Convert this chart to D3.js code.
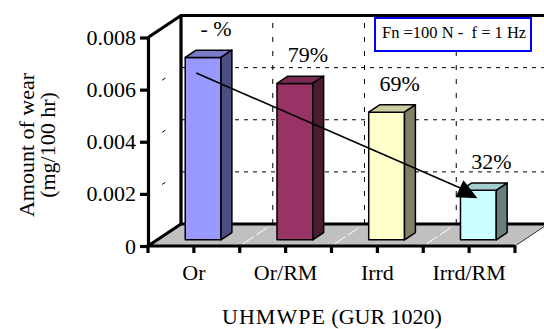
<!DOCTYPE html>
<html>
<head>
<meta charset="utf-8">
<script src="https://cdn.jsdelivr.net/npm/d3@7"></script>
<style>
  html, body { margin: 0; padding: 0; background: #fff; }
  svg { display: block; font-family: "Liberation Serif", "Times New Roman", serif; }
</style>
</head>
<body>
<div id="chart"></div>
<script>
// Wear of UHMWPE (GUR 1020) samples, 3D column chart
const categories = ["Or", "Or/RM", "Irrd", "Irrd/RM"];
const wear = [0.0070, 0.0060, 0.0049, 0.0019];
const percentLabels = ["- %", "79%", "69%", "32%"];
const yTicks = [0, 0.002, 0.004, 0.006, 0.008];
const barFront = ["#9999ff", "#993366", "#ffffcc", "#ccffff"];
const condition = "Fn =100 N -  f = 1 Hz";

const W = 544, H = 329;
const svg = d3.select("#chart").append("svg").attr("width", W).attr("height", H);

// Plot frame: front plane + oblique depth offset
const pLeft = 148, pRight = 515, pBottom = 246, pTop = 37.5;
const DX = 33, DY = 22;
const proj = (px, py, d) => [px + d * DX, py - d * DY];

const x = d3.scaleBand().domain(categories).range([pLeft, pRight]).paddingInner(0).paddingOuter(0);
const y = d3.scaleLinear().domain([0, 0.008]).range([pBottom, pTop]);

const line = d3.line();

// Side wall and back wall
svg.append("path")
  .attr("d", line([proj(pLeft, y(0), 0), proj(pLeft, y(0.008), 0), proj(pLeft, y(0.008), 1), proj(pLeft, y(0), 1)]) + "Z")
  .attr("fill", "#fff");
svg.append("path")
  .attr("d", line([proj(pLeft, y(0), 1), proj(pLeft, y(0.008), 1), proj(pRight, y(0.008), 1), proj(pRight, y(0), 1)]) + "Z")
  .attr("fill", "#fff");

// Back-wall horizontal gridlines
svg.append("g").selectAll("line").data(yTicks.slice(1, -1)).join("line")
  .attr("x1", d => proj(pLeft, y(d), 1)[0]).attr("y1", d => proj(pLeft, y(d), 1)[1])
  .attr("x2", d => proj(pRight, y(d), 1)[0]).attr("y2", d => proj(pRight, y(d), 1)[1])
  .attr("stroke", "#000").attr("stroke-width", 1).attr("stroke-dasharray", "4,5");

// Side-wall gridlines
svg.append("g").selectAll("line").data(yTicks.slice(1, -1)).join("line")
  .attr("x1", d => proj(pLeft, y(d), 0)[0]).attr("y1", d => proj(pLeft, y(d), 0)[1])
  .attr("x2", d => proj(pLeft, y(d), 1)[0]).attr("y2", d => proj(pLeft, y(d), 1)[1])
  .attr("stroke", "#000").attr("stroke-width", 1).attr("stroke-dasharray", "0,17,4,30");

// Back-wall vertical gridlines at category boundaries
const bounds = categories.slice(1).map(c => x(c));
svg.append("g").selectAll("line").data(bounds).join("line")
  .attr("x1", d => proj(d, y(0), 1)[0]).attr("y1", d => proj(d, y(0), 1)[1])
  .attr("x2", d => proj(d, y(0.008), 1)[0]).attr("y2", d => proj(d, y(0.008), 1)[1])
  .attr("stroke", "#000").attr("stroke-width", 1).attr("stroke-dasharray", "5,9");

// Floor
svg.append("path")
  .attr("d", line([proj(pLeft, y(0), 0), proj(pRight, y(0), 0), proj(pRight, y(0), 1), proj(pLeft, y(0), 1)]) + "Z")
  .attr("fill", "#c0c0c0");
svg.append("g").selectAll("line").data(bounds).join("line")
  .attr("x1", d => proj(d, y(0), 0.1)[0]).attr("y1", d => proj(d, y(0), 0.1)[1])
  .attr("x2", d => proj(d, y(0), 0.95)[0]).attr("y2", d => proj(d, y(0), 0.95)[1])
  .attr("stroke", "#fff").attr("stroke-width", 1).attr("stroke-dasharray", "13,3");
svg.append("line")
  .attr("x1", proj(pRight, y(0), 0)[0]).attr("y1", proj(pRight, y(0), 0)[1])
  .attr("x2", proj(pRight, y(0), 1)[0]).attr("y2", proj(pRight, y(0), 1)[1])
  .attr("stroke", "#333").attr("stroke-width", 1);

// Heavy frame edges
const frame = [
  [proj(pLeft, y(0.008), 0), proj(pLeft, y(0.008), 1), proj(pRight, y(0.008), 1)],
  [proj(pLeft, y(0), 1), proj(pLeft, y(0.008), 1)],
  [proj(pLeft, y(0), 0), proj(pLeft, y(0), 1), proj(pRight, y(0), 1)],
  [proj(pLeft, y(0), 0), proj(pRight, y(0), 0)]
];
svg.append("g").selectAll("path").data(frame).join("path")
  .attr("d", d => line(d))
  .attr("stroke", "#000").attr("stroke-width", 3.2).attr("fill", "none");

// Bars
const d0 = 0.28, d1 = 0.61;
const bw = x.bandwidth() * 0.39;
const shade = (c, k) => { const r = d3.rgb(c); return d3.rgb(r.r * k, r.g * k, r.b * k).formatHex(); };
const bars = categories.map((c, i) => {
  const xl = x(c) + (x.bandwidth() - bw) / 2, xr = xl + bw, v = wear[i];
  return { c, i, v, xl, xr };
});
const gb = svg.append("g").attr("stroke", "#000").attr("stroke-width", 1.5).attr("stroke-linejoin", "round");
bars.forEach(b => {
  const yTop = y(b.v), yBase = y(0);
  gb.append("path").attr("fill", barFront[b.i])
    .attr("d", line([proj(b.xl, yTop, d0), proj(b.xr, yTop, d0), proj(b.xr, yBase, d0), proj(b.xl, yBase, d0)]) + "Z");
  gb.append("path").attr("fill", shade(barFront[b.i], 0.8))
    .attr("d", line([proj(b.xl, yTop, d0), proj(b.xr, yTop, d0), proj(b.xr, yTop, d1), proj(b.xl, yTop, d1)]) + "Z");
  gb.append("path").attr("fill", shade(barFront[b.i], 0.5))
    .attr("d", line([proj(b.xr, yTop, d0), proj(b.xr, yTop, d1), proj(b.xr, yBase, d1), proj(b.xr, yBase, d0)]) + "Z");
});

// Percentage labels above the bars
svg.append("g").selectAll("text").data(bars).join("text")
  .attr("x", b => proj((b.xl + b.xr) / 2, 0, d0)[0] + 13)
  .attr("y", b => proj(0, y(b.v), d1)[1] - 14)
  .attr("text-anchor", "middle").attr("font-size", 22).attr("fill", "#000")
  .text(b => percentLabels[b.i]);

// Trend arrow from the first to the last sample
const a0 = [proj(bars[0].xl, 0, d0)[0] + 11, proj(0, y(0.0064), d0)[1]];
const a1 = [proj(bars[3].xl, 0, d0)[0] + 5, proj(0, y(bars[3].v), d0)[1]];
svg.append("line")
  .attr("x1", a0[0]).attr("y1", a0[1]).attr("x2", a1[0]).attr("y2", a1[1])
  .attr("stroke", "#000").attr("stroke-width", 1.6);
svg.append("path")
  .attr("d", line([[a1[0] - 2, a1[1] - 10], [a1[0] - 10, a1[1] + 7], [a1[0] + 12, a1[1] + 8]]) + "Z")
  .attr("fill", "#000");

// Y axis
const yAxis = d3.axisLeft(y).tickValues(yTicks).tickSize(8).tickSizeOuter(0).tickPadding(4)
  .tickFormat(d => d === 0 ? "0" : d3.format(".3f")(d));
const gy = svg.append("g").attr("transform", `translate(${pLeft},0)`).call(yAxis);
gy.select(".domain").attr("stroke", "#000").attr("stroke-width", 3.2);
gy.selectAll(".tick line").attr("stroke", "#000").attr("stroke-width", 3.2);
gy.selectAll(".tick text").attr("font-family", "Liberation Serif").attr("font-size", 22).attr("fill", "#000");

// X axis: labels at centres, ticks at centres and boundaries
const xAxis = d3.axisBottom(x).tickSize(7).tickSizeOuter(0).tickPadding(11);
const gx = svg.append("g").attr("transform", `translate(0,${pBottom})`).call(xAxis);
gx.select(".domain").remove();
gx.selectAll(".tick line").attr("stroke", "#000").attr("stroke-width", 3.2);
gx.selectAll(".tick text").attr("font-family", "Liberation Serif").attr("font-size", 22).attr("fill", "#000");
svg.append("g").selectAll("line").data([pLeft, ...bounds, pRight]).join("line")
  .attr("x1", d => d).attr("x2", d => d).attr("y1", pBottom).attr("y2", pBottom + 7)
  .attr("stroke", "#000").attr("stroke-width", 3.2);

// Axis titles
const xTitle = svg.append("text").attr("x", 332).attr("y", 324).attr("text-anchor", "middle")
  .attr("font-size", 22).attr("fill", "#000");
xTitle.append("tspan").attr("letter-spacing", 1).text("UHMWPE");
xTitle.append("tspan").text(" (GUR 1020)");

const yTitle = svg.append("text").attr("transform", "translate(0,145) rotate(-90)")
  .attr("text-anchor", "middle").attr("font-size", 22).attr("fill", "#000");
yTitle.append("tspan").attr("x", 0).attr("y", 34).text("Amount of wear");
yTitle.append("tspan").attr("x", 0).attr("y", 55).text("(mg/100 hr)");

// Test-condition box
svg.append("rect").attr("x", 375).attr("y", 18).attr("width", 156).attr("height", 33)
  .attr("fill", "#fff").attr("stroke", "#0000ff").attr("stroke-width", 2);
svg.append("text").attr("x", 382).attr("y", 37.5).attr("font-size", 16.5).attr("fill", "#000")
  .style("white-space", "pre").text(condition);
</script>
</body>
</html>
